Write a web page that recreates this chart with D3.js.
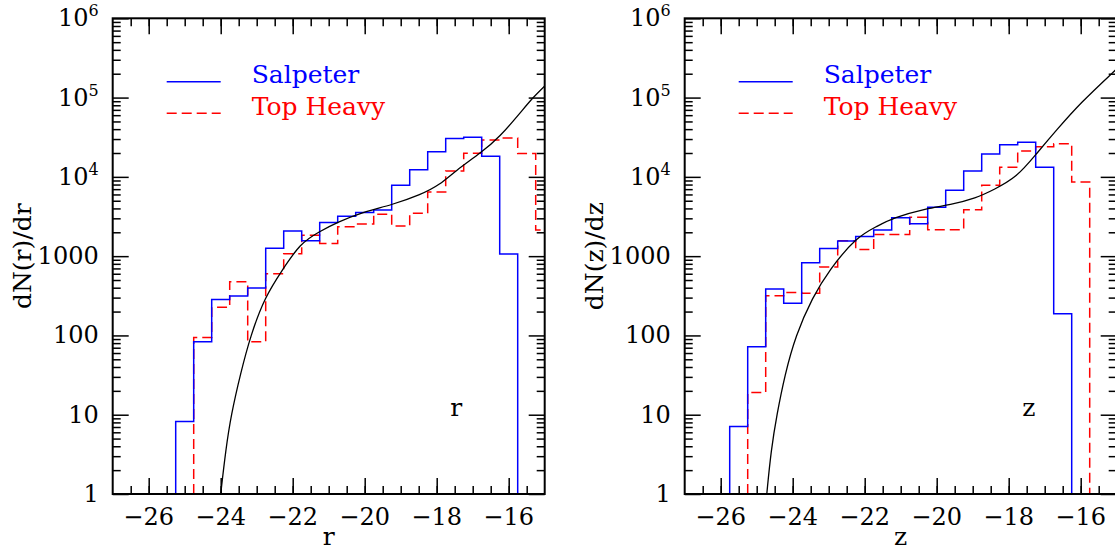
<!DOCTYPE html>
<html>
<head>
<meta charset="utf-8">
<script src="https://cdn.jsdelivr.net/npm/d3@7/dist/d3.min.js"></script>
<style>
body { margin: 0; background: #fff; }
text { font-family: "DejaVu Serif", serif; fill: #000; }
</style>
</head>
<body>
<svg width="1115" height="550"></svg>
<script>
// histogram bins are 0.5 mag wide; each series starts at its first left edge
var binWidth = 0.5;

var rSalpStart = -25.25;
var rSalp = [8.2, 83, 283, 314, 397, 1257, 2070, 1560, 2660, 3180, 3550, 3820,
             7830, 12300, 20800, 30500, 31600, 18200, 1065];
var rTopStart = -24.75;
var rTop = [94, 226, 476, 83, 600, 1070, 1830, 1440, 2350, 2550, 3370, 2400,
            3470, 6450, 11860, 19830, 29200, 30900, 19700, 2140];

var zSalpStart = -25.75;
var zSalp = [7.1, 72, 385, 254, 827, 1250, 1555, 1770, 2130, 3060, 2570, 4130,
             6800, 11860, 19440, 25480, 27280, 13210, 188];
var zTopStart = -25.25;
var zTop = [19, 316, 347, 340, 730, 1560, 1210, 1870, 1870, 3090, 2160, 2160,
            3850, 7830, 13200, 21200, 24000, 26200, 8600];

// smooth model curve
var rModelMag = [-24.0, -23.86, -23.71, -23.45, -23.17, -22.77, -22.29, -21.79, -21.26, -20.76,
                 -20.06, -19.25, -18.46, -17.9, -17.49, -16.75, -16.25, -15.69, -15.33, -15.0];
var rModelVal = [1, 3.6, 10, 33, 100, 308, 668, 1452, 2040, 2670,
                 3600, 4420, 5900, 8000, 11860, 20400, 32000, 63400, 100000, 140000];

var zModelMag = [-24.72, -24.60, -24.44, -24.22, -23.92, -23.45, -22.99, -22.22, -21.67, -21.21,
                 -20.28, -19.63, -18.9, -18.43, -17.78, -17.22, -16.67, -16.02, -15.0];
var zModelVal = [1, 3.6, 10, 31.6, 100, 302, 668, 1760, 2360, 3050,
                 4020, 4420, 5400, 6840, 9800, 19800, 39000, 84700, 230000];

var xTicks = [-26, -24, -22, -20, -18, -16];
var yTickVals = [1, 10, 100, 1000, 1e4, 1e5, 1e6];
var yTickBase = ['1', '10', '100', '1000', '10', '10', '10'];
var yTickExp = ['', '', '', '', '4', '5', '6'];

var seriesNames = ['Salpeter', 'Top Heavy'];

var svg = d3.select('svg');
var plotW = 432, plotH = 475.7, plotTop = 18.3;

function stepPoints(start, vals) {
    var pts = [[start, 1]];
    vals.forEach(function(v, i) { pts.push([start + i * binWidth, v]); });
    pts.push([start + vals.length * binWidth, 1]);
    return pts;
}

function drawPanel(id, left, letter, salpStart, salp, topStart, top, modelMag, modelVal) {
    var g = svg.append('g').attr('transform', 'translate(' + [left, plotTop] + ')');
    var x = d3.scaleLinear().domain([-27, -15]).range([0, plotW]);
    var y = d3.scaleLog().domain([1, 1e6]).range([plotH, 0]);

    g.append('clipPath').attr('id', 'clip' + id)
        .append('rect').attr('width', plotW).attr('height', plotH);

    // minor ticks
    var xMinor = d3.range(-26.5, -15, 0.5);
    var yMinor = [];
    for (var k = 0; k < 6; k++) for (var m = 2; m < 10; m++) yMinor.push(m * Math.pow(10, k));

    function tk(axis, tr) {
        var a = g.append('g').attr('transform', tr).call(axis);
        a.select('.domain').remove();
        a.selectAll('line').attr('stroke-width', 1.5);
        return a;
    }
    tk(d3.axisBottom(x).tickValues(xMinor).tickSize(-8).tickFormat(''), 'translate(0,' + plotH + ')');
    tk(d3.axisTop(x).tickValues(xMinor).tickSize(-8).tickFormat(''), 'translate(0,0)');
    tk(d3.axisBottom(x).tickValues(xTicks).tickSize(-16).tickFormat(''), 'translate(0,' + plotH + ')');
    tk(d3.axisTop(x).tickValues(xTicks).tickSize(-16).tickFormat(''), 'translate(0,0)');
    tk(d3.axisLeft(y).tickValues(yMinor).tickSize(-8).tickFormat(''), 'translate(0,0)');
    tk(d3.axisRight(y).tickValues(yMinor).tickSize(-8).tickFormat(''), 'translate(' + plotW + ',0)');
    tk(d3.axisLeft(y).tickValues(yTickVals).tickSize(-16).tickFormat(''), 'translate(0,0)');
    tk(d3.axisRight(y).tickValues(yTickVals).tickSize(-16).tickFormat(''), 'translate(' + plotW + ',0)');

    // x tick labels
    g.selectAll('.xl').data(xTicks).enter().append('text')
        .attr('x', function(d) { return x(d); })
        .attr('y', plotH + 31)
        .attr('text-anchor', 'middle')
        .style('font-size', '24px')
        .text(function(d) { return '\u2212' + Math.abs(d); });

    // y tick labels
    var yl = g.selectAll('.yl').data(yTickVals).enter().append('text')
        .attr('x', -14)
        .attr('y', function(d) { return y(d) + 8; })
        .attr('text-anchor', 'end')
        .style('font-size', '24px');
    yl.append('tspan').text(function(d, i) { return yTickBase[i]; });
    yl.append('tspan').attr('dy', -10).style('font-size', '16px')
        .text(function(d, i) { return yTickExp[i]; });

    // axis titles
    g.append('text').attr('x', plotW / 2).attr('y', plotH + 51)
        .attr('text-anchor', 'middle').style('font-size', '25px').text(letter);
    g.append('text')
        .attr('transform', 'translate(-82,' + (plotH / 2) + ') rotate(-90)')
        .attr('text-anchor', 'middle').style('font-size', '25px')
        .text('dN(' + letter + ')/d' + letter);
    g.append('text').attr('x', x(-17.62)).attr('y', y(10) + 1)
        .style('font-size', '25px').text(letter);

    var plot = g.append('g').attr('clip-path', 'url(#clip' + id + ')');
    var step = d3.line().x(function(d) { return x(d[0]); }).y(function(d) { return y(d[1]); })
        .curve(d3.curveStepAfter);

    plot.append('path').datum(stepPoints(topStart, top))
        .attr('d', step).attr('fill', 'none').attr('stroke', '#ff0000')
        .attr('stroke-width', 1.5).attr('stroke-dasharray', '10,5');
    plot.append('path').datum(stepPoints(salpStart, salp))
        .attr('d', step).attr('fill', 'none').attr('stroke', '#0000ff')
        .attr('stroke-width', 1.5);

    var model = d3.line().x(function(d) { return x(d[0]); }).y(function(d) { return y(d[1]); })
        .curve(d3.curveBasis);
    plot.append('path').datum(modelMag.map(function(m, i) { return [m, modelVal[i]]; }))
        .attr('d', model).attr('fill', 'none').attr('stroke', '#000').attr('stroke-width', 1.3);

    // legend
    var legColor = ['#0000ff', '#ff0000'];
    var legDash = [null, '10,5'];
    seriesNames.forEach(function(name, i) {
        var ly = 63.4 + i * 31.6;
        g.append('line').attr('x1', 54).attr('x2', 108).attr('y1', ly).attr('y2', ly)
            .attr('stroke', legColor[i]).attr('stroke-width', 1.5)
            .attr('stroke-dasharray', legDash[i]);
        g.append('text').attr('x', 139).attr('y', ly + 1.5)
            .style('font-size', '25px').style('fill', legColor[i]).text(name);
    });

    // frame
    g.append('rect').attr('width', plotW).attr('height', plotH)
        .attr('fill', 'none').attr('stroke', '#000').attr('stroke-width', 2);
}

drawPanel('r', 112.7, 'r', rSalpStart, rSalp, rTopStart, rTop, rModelMag, rModelVal);
drawPanel('z', 684.7, 'z', zSalpStart, zSalp, zTopStart, zTop, zModelMag, zModelVal);
</script>
</body>
</html>
